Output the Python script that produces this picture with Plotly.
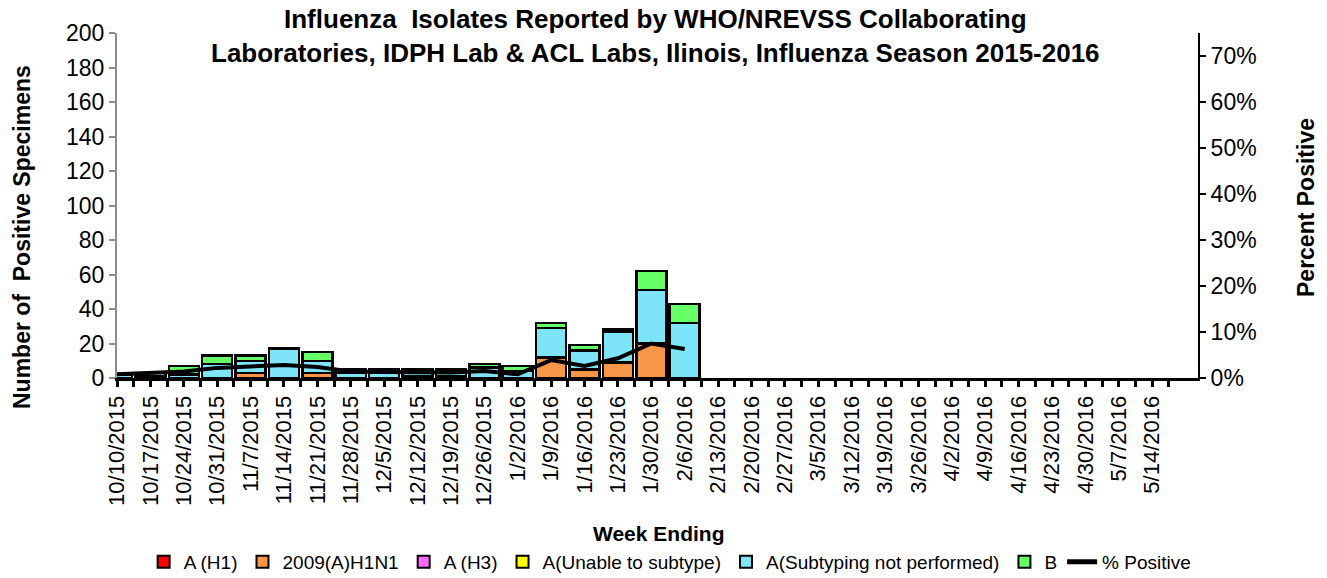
import plotly.graph_objects as go

weeks = ["10/10/2015", "10/17/2015", "10/24/2015", "10/31/2015", "11/7/2015", "11/14/2015",
         "11/21/2015", "11/28/2015", "12/5/2015", "12/12/2015", "12/19/2015", "12/26/2015",
         "1/2/2016", "1/9/2016", "1/16/2016", "1/23/2016", "1/30/2016", "2/6/2016",
         "2/13/2016", "2/20/2016", "2/27/2016", "3/5/2016", "3/12/2016", "3/19/2016",
         "3/26/2016", "4/2/2016", "4/9/2016", "4/16/2016", "4/23/2016", "4/30/2016",
         "5/7/2016", "5/14/2016"]

a_h1 = [0] * 18
h1n1_2009 = [0, 1, 0, 0, 3, 0, 3, 0, 0, 1, 1, 0, 0, 12, 5, 9, 20, 0]
a_h3 = [0] * 18
a_unable = [0] * 18
a_not_subtyped = [2, 2, 2, 8, 7, 17, 7, 3, 3, 3, 3, 6, 4, 17, 11, 18, 31, 32]
b_vals = [0, 0, 5, 5, 3, 0, 5, 2, 2, 1, 1, 2, 3, 3, 3, 1, 11, 11]
pct_positive = [0.8, 1.1, 1.4, 2.2, 2.4, 2.8, 2.4, 1.4, 1.3, 1.2, 1.2, 1.5, 0.8, 3.9, 2.6, 4.3, 7.5, 6.3]

x_idx = list(range(len(weeks)))
x_data = x_idx[:len(pct_positive)]

series = [
    ("A (H1)", a_h1, "#FF0000"),
    ("2009(A)H1N1", h1n1_2009, "#F79646"),
    ("A (H3)", a_h3, "#FF66FF"),
    ("A(Unable to subtype)", a_unable, "#FFFF00"),
    ("A(Subtyping not performed)", a_not_subtyped, "#7EE5F9"),
    ("B", b_vals, "#66FF66"),
]

fig = go.Figure()
for name, vals, col in series:
    fig.add_trace(go.Bar(
        x=x_data, y=vals, name=name,
        marker=dict(color=col, line=dict(color="black", width=2.5)),
    ))

fig.add_trace(go.Scatter(
    x=x_data, y=pct_positive, name="% Positive", yaxis="y2",
    mode="lines", line=dict(color="black", width=4),
))

font_family = "Liberation Sans, Arial, sans-serif"

# plot area in pixels: x 117..1198, y 33..378
def px(x):
    return (x - 117) / 1081

def py(y):
    return (378 - y) / 345

fig.update_layout(
    width=1327, height=578,
    barmode="stack", bargap=0.1,
    plot_bgcolor="white", paper_bgcolor="white",
    margin=dict(l=117, r=129, t=33, b=200),
    font=dict(family=font_family, color="black", size=20),
    showlegend=True,
    legend=dict(orientation="h", xref="container", yref="container",
                x=0.505, xanchor="center", y=1 - 562 / 578, yanchor="middle",
                font=dict(size=19), itemwidth=30, traceorder="normal",
                tracegroupgap=0, itemsizing="constant"),
    xaxis=dict(
        range=[0, 32.37], tickmode="array", tickvals=x_idx, ticktext=weeks,
        tickangle=-90, tickfont=dict(size=22),
        showline=True, linecolor="black", linewidth=3,
        ticks="outside", ticklen=6, tickwidth=3, tickcolor="black",
        minor=dict(tickmode="array", tickvals=[i + 0.5 for i in range(-1, 33)],
                   ticks="outside", ticklen=6, tickwidth=3, tickcolor="black"),
        showgrid=False, zeroline=False,
    ),
    yaxis=dict(
        range=[0, 200], tickmode="array", tickvals=list(range(0, 201, 20)),
        tickfont=dict(size=23),
        showline=True, linecolor="#8C8C8C", linewidth=2,
        ticks="outside", ticklen=6, tickwidth=2, tickcolor="#8C8C8C",
        showgrid=False, zeroline=False,
    ),
    yaxis2=dict(
        range=[0, 75], overlaying="y", side="right",
        tickmode="array", tickvals=list(range(0, 71, 10)),
        ticktext=[f"{v}%" for v in range(0, 71, 10)],
        tickfont=dict(size=23),
        showline=True, linecolor="black", linewidth=2,
        ticks="outside", ticklen=6, tickwidth=2, tickcolor="black",
        showgrid=False, zeroline=False,
    ),
    annotations=[
        dict(text="<b>Influenza  Isolates Reported by WHO/NREVSS Collaborating<br>"
                  "Laboratories, IDPH Lab & ACL Labs, Ilinois, Influenza Season 2015-2016</b>",
             xref="paper", yref="paper", x=px(655), y=py(36),
             xanchor="center", yanchor="middle", showarrow=False,
             font=dict(size=26), align="center"),
        dict(text="<b>Number of  Positive Specimens</b>", textangle=-90,
             xref="paper", yref="paper", x=px(22), y=py(237),
             xanchor="center", yanchor="middle", showarrow=False, font=dict(size=23)),
        dict(text="<b>Percent Positive</b>", textangle=-90,
             xref="paper", yref="paper", x=px(1306), y=py(208),
             xanchor="center", yanchor="middle", showarrow=False, font=dict(size=23)),
        dict(text="<b>Week Ending</b>",
             xref="paper", yref="paper", x=px(658), y=py(533),
             xanchor="center", yanchor="middle", showarrow=False, font=dict(size=21)),
    ],
)

fig.write_html("out.html", config={"displayModeBar": False},
               post_script="document.body.style.margin='0';document.body.style.overflow='hidden';")
